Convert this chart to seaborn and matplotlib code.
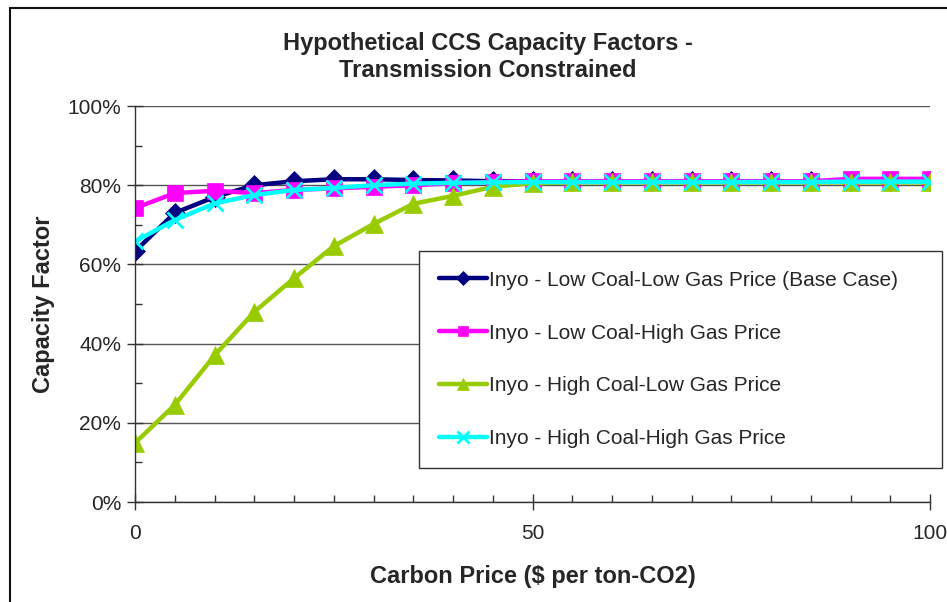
import matplotlib
matplotlib.use("Agg")
import matplotlib.pyplot as plt
import matplotlib.patches as mpatches
from matplotlib.ticker import MultipleLocator, FuncFormatter
import seaborn as sns
import pandas as pd

# Carbon price ($ per ton-CO2)
carbon_price = [0, 5, 10, 15, 20, 25, 30, 35, 40, 45, 50, 55, 60, 65, 70, 75, 80, 85, 90, 95, 100]

# Capacity factors (%)
low_coal_low_gas = [63.3, 73.0, 77.0, 80.0, 81.0, 81.5, 81.5, 81.3, 81.2, 81.0, 81.0, 81.0, 81.0, 81.0,
                    81.0, 81.0, 81.0, 81.0, 81.0, 81.0, 81.0]
low_coal_high_gas = [74.2, 78.0, 78.6, 78.0, 78.8, 79.2, 79.6, 80.0, 80.5, 80.8, 81.0, 81.0, 81.0, 81.0,
                     81.0, 81.0, 81.0, 81.0, 81.6, 81.6, 81.6]
high_coal_low_gas = [14.9, 24.5, 37.0, 48.0, 56.5, 64.6, 70.2, 75.3, 77.3, 79.6, 80.5, 80.7, 80.7, 80.7,
                     80.7, 80.7, 80.7, 80.7, 80.7, 80.7, 80.7]
high_coal_high_gas = [65.8, 71.2, 75.4, 77.5, 78.8, 79.3, 80.0, 80.4, 80.6, 80.7, 80.8, 80.8, 80.8, 80.8,
                      80.8, 80.8, 80.8, 80.8, 80.9, 80.9, 80.9]

series_names = [
    "Inyo - Low Coal-Low Gas Price (Base Case)",
    "Inyo - Low Coal-High Gas Price",
    "Inyo - High Coal-Low Gas Price",
    "Inyo - High Coal-High Gas Price",
]
series_values = [low_coal_low_gas, low_coal_high_gas, high_coal_low_gas, high_coal_high_gas]
colors = ["#000080", "#FF00FF", "#99CC00", "#00FFFF"]
markers = ["D", "s", "^", "x"]
marker_sizes = [10, 11, 13, 12]

df = pd.DataFrame({
    "price": carbon_price * len(series_names),
    "cf": [v for vals in series_values for v in vals],
    "series": [n for n, vals in zip(series_names, series_values) for _ in vals],
})

sns.set_style("white")
plt.rcParams["font.family"] = ["Liberation Sans", "DejaVu Sans"]

fig = plt.figure(figsize=(9.47, 6.02), dpi=100)
ax = fig.add_axes([135 / 947, 1 - 502 / 602, (930 - 135) / 947, (502 - 106) / 602])

for name, color, mk, ms in zip(series_names, colors, markers, marker_sizes):
    sub = df[df["series"] == name]
    sns.lineplot(data=sub, x="price", y="cf", ax=ax, color=color, linewidth=3.2,
                 marker=mk, markersize=ms, markeredgecolor=color,
                 markeredgewidth=2.0 if mk == "x" else 0.5, label=name, legend=False)

ax.set_xlim(0, 100)
ax.set_ylim(0, 100)
ax.xaxis.set_major_locator(MultipleLocator(50))
ax.xaxis.set_minor_locator(MultipleLocator(5))
ax.yaxis.set_major_locator(MultipleLocator(20))
ax.yaxis.set_minor_locator(MultipleLocator(10))
ax.yaxis.set_major_formatter(FuncFormatter(lambda v, p: f"{int(v)}%"))

ax.grid(axis="y", which="major", color="#555555", linewidth=1.0)
ax.set_axisbelow(True)
for side in ["top", "right"]:
    ax.spines[side].set_visible(False)
for side in ["left", "bottom"]:
    ax.spines[side].set_color("#333333")
    ax.spines[side].set_linewidth(1.0)

ax.tick_params(axis="both", which="major", color="#333333", width=1,
               labelsize=15, left=True, bottom=True)
ax.tick_params(axis="both", which="minor", color="#333333", width=1, left=True, bottom=True)
ax.tick_params(axis="y", which="major", direction="inout", length=12, pad=4)
ax.tick_params(axis="y", which="minor", direction="in", length=5)
ax.tick_params(axis="x", which="major", direction="inout", length=12, pad=10)
ax.tick_params(axis="x", which="minor", direction="in", length=5)

ax.set_xlabel("Carbon Price ($ per ton-CO2)", fontsize=17, fontweight="bold", labelpad=16)
ax.set_ylabel("Capacity Factor", fontsize=17, fontweight="bold", labelpad=9)

fig.text(488 / 947, 1 - 57 / 602,
         "Hypothetical CCS Capacity Factors -\nTransmission Constrained",
         ha="center", va="center", fontsize=17, fontweight="bold", linespacing=1.25)

handles, labels = ax.get_legend_handles_labels()
leg_x0, leg_x1 = 419 / 947, 942 / 947
leg_top = 1 - 251 / 602
leg = fig.legend(handles, labels, loc="upper left", mode="expand",
                 bbox_to_anchor=(leg_x0, leg_top - 0.01, leg_x1 - leg_x0, 0.01),
                 bbox_transform=fig.transFigure,
                 fontsize=15, frameon=True, fancybox=False, framealpha=1,
                 edgecolor="#333333", borderpad=0.95, labelspacing=1.62,
                 handlelength=2.3, handletextpad=0.1, borderaxespad=0, markerscale=0.7)
leg.get_frame().set_linewidth(1.0)

# outer chart border
fig.patches.append(mpatches.Rectangle((9.5 / 947, -0.05), 1.1, 1.05 - 7.5 / 602,
                                      transform=fig.transFigure, fill=False,
                                      edgecolor="#111111", linewidth=1.5))

fig.savefig("out.png", dpi=100)
